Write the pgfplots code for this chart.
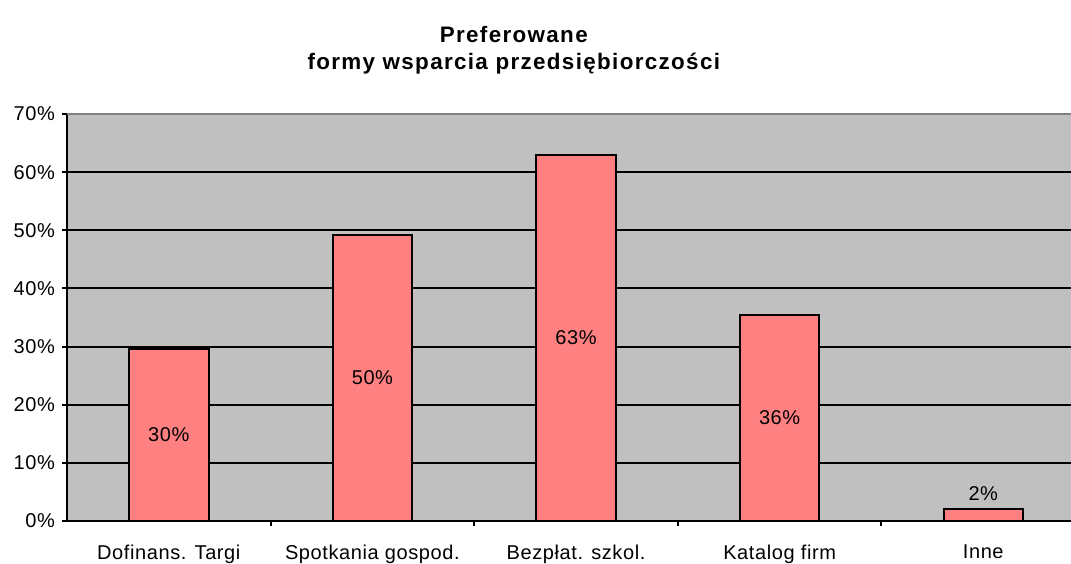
\documentclass[border=0pt]{standalone}
\usepackage{fontspec}
\setmainfont{Liberation Sans}
\newfontfamily\spaced[LetterSpace=3]{Liberation Sans}
\newfontfamily\titlefont[LetterSpace=6]{Liberation Sans}
\usepackage{pgfplots}
\pgfplotsset{compat=1.18}
\definecolor{plotbg}{HTML}{C0C0C0}
\definecolor{barfill}{HTML}{FF8080}
\definecolor{topline}{HTML}{808080}
\begin{document}
\begin{tikzpicture}[x=1pt,y=1pt]
\useasboundingbox (-33.5,-21) rectangle (502,260.5);
\begin{axis}[
  at={(0,0)}, anchor=south west,
  scale only axis, width=502pt, height=203.5pt,
  xmin=-0.5, xmax=4.431, ymin=0, ymax=70,
  axis background/.style={fill=plotbg},
  axis x line*=bottom, axis y line*=left,
  axis line style={line width=1.2pt, black},
  ytick={0,10,...,70},
  yticklabel={\pgfmathprintnumber{\tick}\%},
  /pgf/number format/assume math mode=true,
  ymajorgrids, grid style={black, line width=1pt},
  tick align=outside,
  major tick length=2.5pt,
  major tick style={black, line width=1pt},
  xtick={0,...,4},
  xticklabels={Dofinans. Targi, Spotkania gospod., Bezpłat. szkol., Katalog firm, Inne},
  major x tick style={draw=none},
  minor xtick={0.5,1.5,2.5,3.5},
  minor tick length=2.5pt,
  minor x tick style={black, line width=1pt},
  tick label style={font=\spaced\fontsize{10}{12}\selectfont},
  xticklabel style={yshift=-6pt},
  clip=false,
]
\addplot[ybar, bar width=0.39, fill=barfill, draw=black, line width=1pt]
  coordinates {(0,29.6) (1,49.2) (2,63.0) (3,35.5) (4,2.1)};
\addplot[draw=none, mark=none, nodes near coords, point meta=explicit symbolic,
  nodes near coords style={anchor=center, font=\spaced\fontsize{10}{12}\selectfont, text=black}]
  coordinates {(0,14.8)[30\%] (1,24.6)[50\%] (2,31.5)[63\%] (3,17.75)[36\%] (4,4.8)[2\%]};
\draw[topline, line width=1.2pt] (rel axis cs:0,1) -- (rel axis cs:1,1);
\node[align=center, font=\titlefont\bfseries\fontsize{11.2}{13.5}\selectfont] at (rel axis cs:0.445,1) [yshift=31.75pt] {Preferowane\\formy wsparcia przedsiębiorczości};
\end{axis}
\end{tikzpicture}
\end{document}
